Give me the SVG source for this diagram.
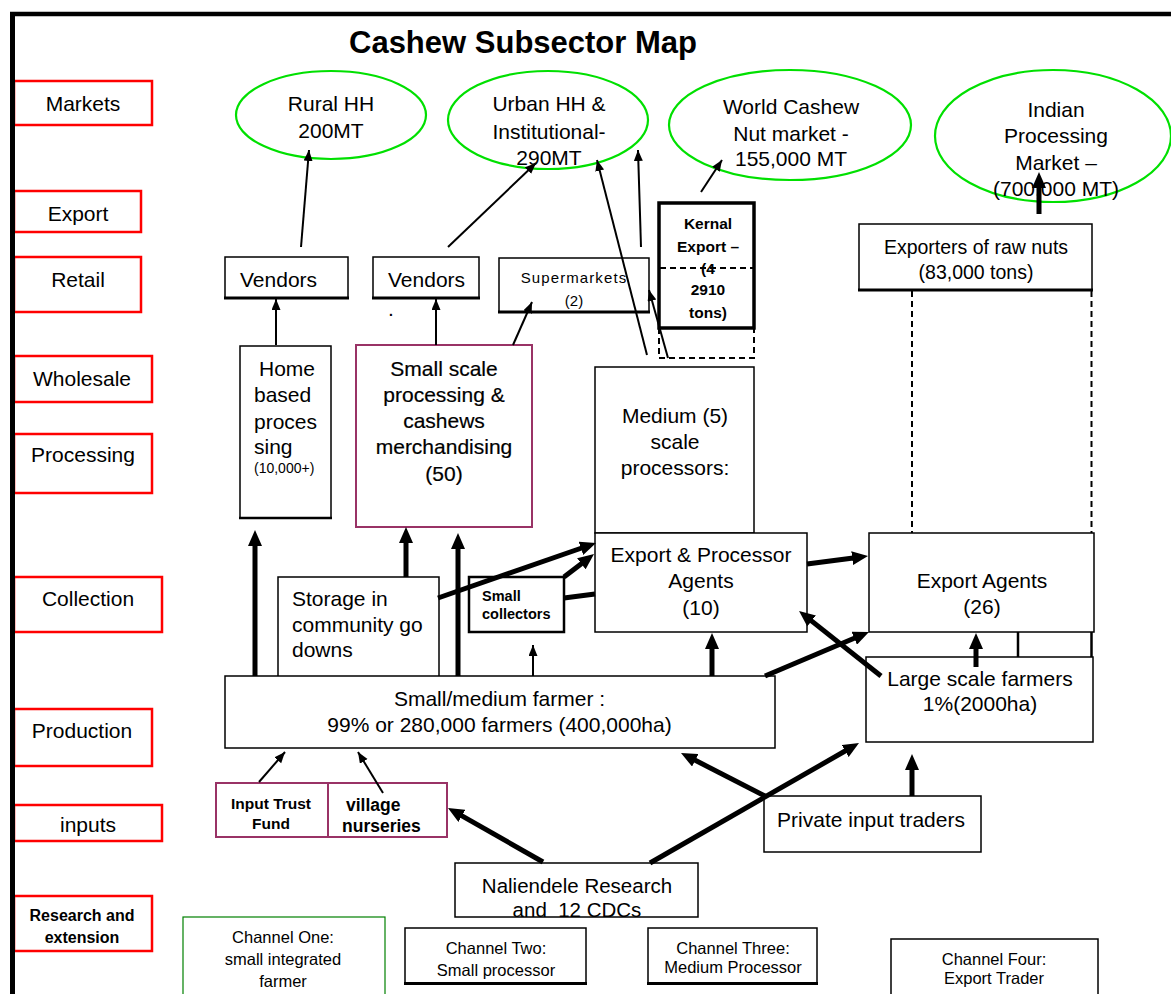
<svg xmlns="http://www.w3.org/2000/svg" width="1171" height="994" viewBox="0 0 1171 994">
<style>
text{font-family:"Liberation Sans",Arial,sans-serif;fill:#000}
.c{text-anchor:middle}
.f21{font-size:21px}
.lbl{fill:#fff;stroke:#f00;stroke-width:2.5}
.lt{font-size:21px;text-anchor:middle}
.ell{fill:#fff;stroke:#00e000;stroke-width:2.2}
.box{fill:#fff;stroke:#000;stroke-width:1.5}
.pur{fill:#fff;stroke:#993366;stroke-width:2}
.bb{stroke:#000;stroke-width:3}
.thin{stroke:#000;stroke-width:2;fill:none}
.thick{stroke:#000;stroke-width:5;fill:none}
.dash{stroke:#000;stroke-width:2;stroke-dasharray:6 4;fill:none}
.ch{font-size:16.5px;text-anchor:middle}
</style>
<defs>
<marker id="h" markerUnits="userSpaceOnUse" markerWidth="12" markerHeight="10" refX="11" refY="4.5" orient="auto"><path d="M0,0 L11,4.5 L0,9 z" fill="#000"/></marker>
<marker id="H" markerUnits="userSpaceOnUse" markerWidth="17" markerHeight="14" refX="7" refY="7" orient="auto"><path d="M0,0 L16,7 L0,14 z" fill="#000"/></marker>
</defs>
<rect width="1171" height="994" fill="#fff"/>

<g id="labels">
<g id="lbl-markets"><rect class="lbl" x="14" y="81" width="138" height="44"/><text class="lt" x="83" y="110.5">Markets</text></g>
<g id="lbl-export"><rect class="lbl" x="14" y="191" width="127" height="41"/><text class="lt" x="78" y="220.5">Export</text></g>
<g id="lbl-retail"><rect class="lbl" x="14" y="257" width="127" height="55"/><text class="lt" x="78" y="286.5">Retail</text></g>
<g id="lbl-wholesale"><rect class="lbl" x="14" y="356" width="138" height="46"/><text class="lt" x="82" y="385.5">Wholesale</text></g>
<g id="lbl-processing"><rect class="lbl" x="14" y="434" width="138" height="59"/><text class="lt" x="83" y="462">Processing</text></g>
<g id="lbl-collection"><rect class="lbl" x="14" y="577" width="148" height="55"/><text class="lt" x="88" y="605.5">Collection</text></g>
<g id="lbl-production"><rect class="lbl" x="14" y="709" width="138" height="57"/><text class="lt" x="82" y="737.5">Production</text></g>
<g id="lbl-inputs"><rect class="lbl" x="14" y="805" width="148" height="36"/><text class="lt" x="88" y="832">inputs</text></g>
<g id="lbl-research"><rect class="lbl" x="14" y="896" width="138" height="55"/><text x="82" y="921" class="c" font-size="16" font-weight="bold">Research and</text><text x="82" y="943" class="c" font-size="16" font-weight="bold">extension</text></g>
</g>

<g id="frame"><line x1="10" y1="14" x2="1171" y2="14" stroke="#000" stroke-width="4.5"/><line x1="12.5" y1="12" x2="12.5" y2="994" stroke="#000" stroke-width="5"/></g>

<text id="title" x="523" y="53" class="c" font-size="31" font-weight="bold">Cashew Subsector Map</text>

<g id="rural-hh"><ellipse class="ell" cx="331" cy="115" rx="95" ry="44"/><text class="c f21" x="331" y="110.5">Rural HH</text><text class="c f21" x="331" y="137.5">200MT</text></g>
<g id="urban-hh"><ellipse class="ell" cx="548" cy="120" rx="100" ry="49"/><text class="c f21" x="549" y="110.5">Urban HH &amp;</text><text class="c f21" x="549" y="138.5">Institutional-</text><text class="c f21" x="549" y="164.5">290MT</text></g>
<g id="world-market"><ellipse class="ell" cx="790" cy="125" rx="121" ry="55"/><text class="c f21" x="791" y="113.5">World Cashew</text><text class="c f21" x="791" y="140.5">Nut market -</text><text class="c f21" x="791" y="165.5">155,000 MT</text></g>
<g id="indian-market"><ellipse class="ell" cx="1053" cy="136" rx="118" ry="66"/><text class="c f21" x="1056" y="116.5">Indian</text><text class="c f21" x="1056" y="142.5">Processing</text><text class="c f21" x="1056" y="169.5">Market –</text><text class="c f21" x="1056" y="195.5">(700,000 MT)</text></g>

<g id="vendors-1"><rect class="box" x="225" y="257" width="123" height="41"/><line class="bb" x1="224" y1="298" x2="349" y2="298"/><text class="f21" x="240" y="286.5">Vendors</text></g>
<g id="vendors-2"><rect class="box" x="373" y="257" width="106" height="41"/><line class="bb" x1="372" y1="298" x2="480" y2="298"/><text class="f21" x="388" y="286.5">Vendors</text><text class="f21" x="388" y="316">.</text></g>
<g id="supermarkets"><rect class="box" x="499" y="258" width="150" height="54"/><line class="bb" x1="498" y1="312" x2="650" y2="312"/><text class="c" x="574" y="283" font-size="15" letter-spacing="1.1">Supermarkets</text><text class="c" x="574" y="306" font-size="15">(2)</text></g>
<g id="kernal-export"><path class="dash" d="M659,328 V358 H754 V328"/><rect x="659" y="203" width="95" height="125" fill="#fff" stroke="#000" stroke-width="3.5"/><line class="dash" x1="660" y1="268" x2="753" y2="268"/><g font-size="15.5" font-weight="bold"><text class="c" x="708" y="228.5">Kernal</text><text class="c" x="708" y="251.5">Export –</text><text class="c" x="708" y="273.5">(4</text><text class="c" x="708" y="294.5">2910</text><text class="c" x="708" y="317.5">tons)</text></g></g>
<g id="exporters-raw"><rect class="box" x="859" y="224" width="233" height="66"/><line class="bb" x1="858" y1="290" x2="1093" y2="290"/><text class="c" x="976" y="254" font-size="19.5">Exporters of raw nuts</text><text class="c" x="976" y="279" font-size="19.5">(83,000 tons)</text></g>

<g id="home-based"><rect class="box" x="240" y="346" width="91" height="172"/><line x1="239" y1="518" x2="332" y2="518" stroke="#000" stroke-width="2.5"/><text class="f21" x="259" y="375.5">Home</text><text class="f21" x="254" y="401.5">based</text><text class="f21" x="254" y="428.5">proces</text><text class="f21" x="254" y="453.5">sing</text><text x="254" y="473" font-size="14">(10,000+)</text></g>
<g id="small-scale"><rect class="pur" x="356" y="345" width="176" height="182"/><g class="c f21" stroke="#000" stroke-width="0.2"><text x="444" y="375.5">Small scale</text><text x="444" y="401.5">processing &amp;</text><text x="444" y="427.5">cashews</text><text x="444" y="453.5">merchandising</text><text x="444" y="480.5">(50)</text></g></g>
<g id="medium-processors"><rect class="box" x="595" y="367" width="159" height="166"/><text class="c f21" x="675" y="422.5">Medium (5)</text><text class="c f21" x="675" y="449">scale</text><text class="c f21" x="675" y="475">processors:</text></g>
<g id="export-processor-agents"><rect class="box" x="595" y="533" width="212" height="99"/><text class="c f21" x="701" y="561.5">Export &amp; Processor</text><text class="c f21" x="701" y="588">Agents</text><text class="c f21" x="701" y="614.5">(10)</text></g>
<g id="storage"><rect class="box" x="278" y="577" width="161" height="110"/><text class="f21" x="292" y="605.5">Storage in</text><text class="f21" x="292" y="632">community go</text><text class="f21" x="292" y="657">downs</text></g>
<g id="small-collectors"><rect x="469" y="577" width="95" height="55" fill="#fff" stroke="#000" stroke-width="2.5"/><text x="482" y="601" font-size="14.5" font-weight="bold">Small</text><text x="482" y="619" font-size="14.5" font-weight="bold">collectors</text></g>
<g id="export-agents"><rect class="box" x="869" y="533" width="225" height="99"/><text class="c f21" x="982" y="587.5">Export Agents</text><text class="c f21" x="982" y="614">(26)</text></g>
<g id="small-medium-farmer"><rect class="box" x="225" y="676" width="550" height="72"/><text class="c f21" x="499.5" y="705.5">Small/medium farmer :</text><text class="c f21" x="499.5" y="731.5">99% or 280,000 farmers (400,000ha)</text></g>
<g id="large-scale-farmers"><rect class="box" x="866" y="657" width="227" height="85"/><text class="c f21" x="980" y="685.5">Large scale farmers</text><text class="c f21" x="980" y="710.5">1%(2000ha)</text></g>
<g id="input-trust-fund"><rect class="pur" x="216" y="783" width="112" height="54"/><text class="c" x="271" y="808.5" font-size="15.5" font-weight="bold">Input Trust</text><text class="c" x="271" y="828.5" font-size="15.5" font-weight="bold">Fund</text></g>
<g id="village-nurseries"><rect class="pur" x="328" y="783" width="119" height="54"/><text x="346" y="811" font-size="17.5" font-weight="bold">village</text><text x="342" y="832" font-size="17.5" font-weight="bold">nurseries</text></g>
<g id="private-input-traders"><rect class="box" x="764" y="796" width="217" height="56"/><text class="c f21" x="871" y="827">Private input traders</text></g>
<g id="naliendele"><rect class="box" x="455" y="863" width="243" height="54"/><text class="c" x="577" y="892.5" font-size="20.5" fill="#333">Naliendele Research</text><text class="c" x="577" y="917" font-size="20.5" fill="#333" xml:space="preserve">and  12 CDCs</text></g>

<g id="channel-one"><rect x="183" y="917" width="202" height="80" fill="#fff" stroke="#008000" stroke-width="1.2"/><text class="ch" x="283" y="943">Channel One:</text><text class="ch" x="283" y="965">small integrated</text><text class="ch" x="283" y="987">farmer</text></g>
<g id="channel-two"><rect class="box" x="405" y="928" width="181" height="55"/><line class="bb" x1="404" y1="983.5" x2="587" y2="983.5"/><text class="ch" x="496" y="954">Channel Two:</text><text class="ch" x="496" y="976">Small processor</text></g>
<g id="channel-three"><rect class="box" x="648" y="928" width="169" height="55"/><line class="bb" x1="647" y1="983.5" x2="818" y2="983.5"/><text class="ch" x="733" y="954">Channel Three:</text><text class="ch" x="733" y="973">Medium Processor</text></g>
<g id="channel-four"><rect class="box" x="891" y="939" width="207" height="60"/><text class="ch" x="994" y="965">Channel Four:</text><text class="ch" x="994" y="984">Export Trader</text></g>

<g id="connectors">
<line class="dash" x1="912" y1="291" x2="912" y2="533"/>
<line class="dash" x1="1091.5" y1="291" x2="1091.5" y2="533"/>
<line x1="1018" y1="632" x2="1018" y2="657" stroke="#000" stroke-width="2.5"/>
<line x1="1091.5" y1="632" x2="1091.5" y2="657" stroke="#000" stroke-width="2.5"/>
<line class="thin" x1="301" y1="247" x2="309" y2="150" marker-end="url(#h)"/>
<line class="thin" x1="448" y1="247" x2="536" y2="163" marker-end="url(#h)"/>
<line class="thin" x1="513" y1="345" x2="532" y2="302" marker-end="url(#h)"/>
<line class="thin" x1="276" y1="345" x2="276" y2="299" marker-end="url(#h)"/>
<line class="thin" x1="436" y1="345" x2="436" y2="299" stroke-width="3" marker-end="url(#h)"/>
<line class="thin" x1="647" y1="355" x2="597" y2="160" marker-end="url(#h)"/>
<line class="thin" x1="641" y1="247" x2="638" y2="150" stroke-width="2.5" marker-end="url(#h)"/>
<line class="thin" x1="701" y1="192" x2="722" y2="160" marker-end="url(#h)"/>
<line class="thin" x1="668" y1="358" x2="649" y2="290" marker-end="url(#h)"/>
<line class="thin" x1="533" y1="676" x2="533" y2="645" marker-end="url(#h)"/>
<line class="thin" x1="259" y1="782" x2="285" y2="752" marker-end="url(#h)"/>
<line class="thin" x1="383" y1="793" x2="358" y2="752" marker-end="url(#h)"/>
<line class="thick" x1="255" y1="676" x2="255" y2="539" marker-end="url(#H)"/>
<line class="thick" x1="406" y1="577" x2="406" y2="536" stroke-width="4.5" marker-end="url(#H)"/>
<line class="thick" x1="458" y1="676" x2="458" y2="542" marker-end="url(#H)"/>
<line class="thick" x1="438" y1="598" x2="587.5" y2="546" marker-end="url(#H)"/>
<line class="thick" x1="564" y1="577" x2="586.9" y2="559.5" stroke-width="4" marker-end="url(#H)"/>
<line class="thick" x1="564" y1="598" x2="595" y2="594" stroke-width="4"/>
<line class="thick" x1="712" y1="676" x2="712" y2="642" marker-end="url(#H)"/>
<line class="thick" x1="765" y1="676" x2="860.7" y2="635.5" marker-end="url(#H)"/>
<line class="thick" x1="881" y1="676" x2="806.1" y2="616.6" stroke-width="4" marker-end="url(#H)"/>
<line class="thick" x1="807" y1="564" x2="859.1" y2="557.2" stroke-width="4.5" marker-end="url(#H)"/>
<line class="thick" x1="976" y1="667" x2="976" y2="642" stroke-width="4.5" marker-end="url(#H)"/>
<line class="thick" x1="912" y1="796" x2="912" y2="763" stroke-width="4.5" marker-end="url(#H)"/>
<line class="thick" x1="765" y1="796" x2="689" y2="757.1" stroke-width="4.5" marker-end="url(#H)"/>
<line class="thick" x1="650" y1="863" x2="851.2" y2="747.5" marker-end="url(#H)"/>
<line class="thick" x1="543" y1="862" x2="455.8" y2="812.4" marker-end="url(#H)"/>
<line class="thick" x1="1039" y1="214" x2="1039" y2="181" stroke-width="4" marker-end="url(#H)"/>
</g>
</svg>
